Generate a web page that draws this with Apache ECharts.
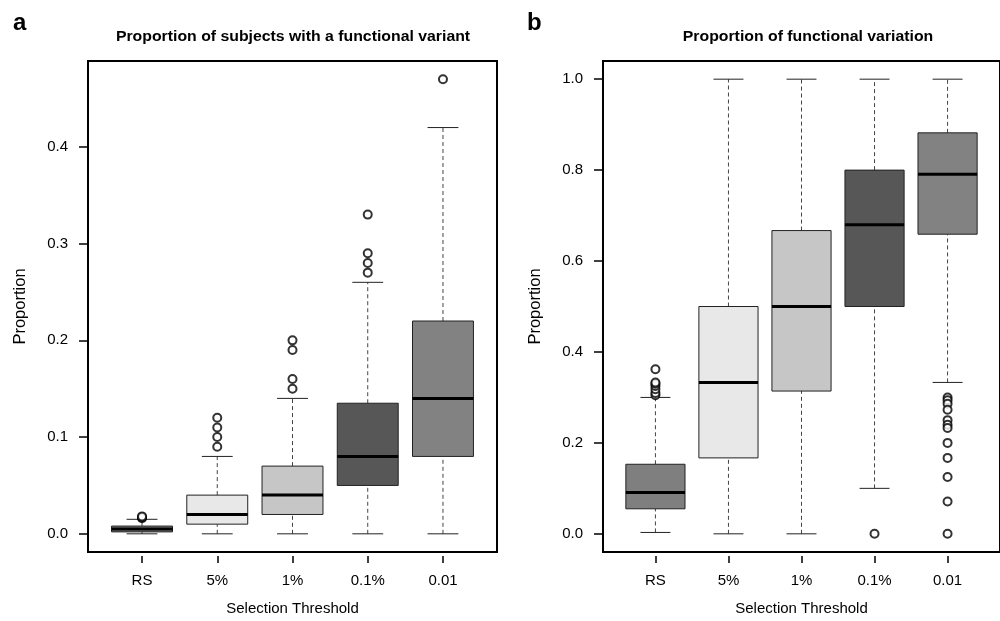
<!DOCTYPE html>
<html>
<head>
<meta charset="utf-8">
<script src="https://cdn.jsdelivr.net/npm/echarts@6/dist/echarts.min.js"></script>
<style>
html,body{margin:0;padding:0;background:#fff;}
#chart{width:1000px;height:621px;}
</style>
</head>
<body>
<div id="chart"></div>
<script>
// ---------- data ----------
const categories = ['RS', '5%', '1%', '0.1%', '0.01'];

// Panel a: Proportion of subjects with a functional variant
const aLowerWhisker = [0.000, 0.000, 0.000, 0.000, 0.000];
const aQ1           = [0.002, 0.010, 0.020, 0.050, 0.080];
const aMedian       = [0.005, 0.020, 0.040, 0.080, 0.140];
const aQ3           = [0.008, 0.040, 0.070, 0.135, 0.220];
const aUpperWhisker = [0.015, 0.080, 0.140, 0.260, 0.420];
const aOutliers = [
  [0.016, 0.017, 0.018],
  [0.09, 0.10, 0.11, 0.12],
  [0.15, 0.16, 0.19, 0.20],
  [0.27, 0.28, 0.29, 0.33],
  [0.47]
];
const aTicks = [0, 0.1, 0.2, 0.3, 0.4];

// Panel b: Proportion of functional variation
const bLowerWhisker = [0.003, 0.000, 0.000, 0.100, 0.333];
const bQ1           = [0.055, 0.167, 0.314, 0.500, 0.659];
const bMedian       = [0.091, 0.333, 0.500, 0.680, 0.791];
const bQ3           = [0.153, 0.500, 0.667, 0.800, 0.882];
const bUpperWhisker = [0.300, 1.000, 1.000, 1.000, 1.000];
const bOutliers = [
  [0.305, 0.310, 0.318, 0.325, 0.330, 0.333, 0.362],
  [],
  [],
  [0.0],
  [0.300, 0.294, 0.286, 0.273, 0.250, 0.240, 0.233, 0.200, 0.167, 0.125, 0.071, 0.0]
];
const bTicks = [0, 0.2, 0.4, 0.6, 0.8, 1.0];

// ---------- styles ----------
const boxColors = ['#7f7f7f', '#e8e8e8', '#c6c6c6', '#575757', '#828282'];
const FONT = 'Liberation Sans, Arial, Helvetica, sans-serif';

function boxData(lo, q1, med, q3, hi) {
  return categories.map((c, i) => [i + 1, lo[i], q1[i], med[i], q3[i], hi[i]]);
}
function outlierData(out) {
  const d = [];
  out.forEach((arr, i) => arr.forEach(v => d.push([i + 1, v])));
  return d;
}

function renderBox(params, api) {
  const x = api.value(0);
  const lo = api.value(1), q1 = api.value(2), med = api.value(3), q3 = api.value(4), hi = api.value(5);
  const halfBox = 0.405, halfCap = 0.205;
  const c = (a, b) => api.coord([a, b]);
  const pTL = c(x - halfBox, q3), pBR = c(x + halfBox, q1);
  const whiskerStyle = { stroke: '#444', lineWidth: 1, lineDash: [4, 3] };
  const capStyle = { stroke: '#222', lineWidth: 1 };
  const line = (p1, p2, style) => ({
    type: 'line',
    shape: { x1: p1[0], y1: p1[1], x2: p2[0], y2: p2[1] },
    style: style
  });
  return {
    type: 'group',
    children: [
      line(c(x, q3), c(x, hi), whiskerStyle),
      line(c(x, lo), c(x, q1), whiskerStyle),
      line(c(x - halfCap, hi), c(x + halfCap, hi), capStyle),
      line(c(x - halfCap, lo), c(x + halfCap, lo), capStyle),
      {
        type: 'rect',
        shape: { x: pTL[0], y: pTL[1], width: pBR[0] - pTL[0], height: pBR[1] - pTL[1] },
        style: { fill: boxColors[params.dataIndex], stroke: '#222', lineWidth: 1 }
      },
      line(c(x - halfBox, med), c(x + halfBox, med), { stroke: '#000', lineWidth: 3 })
    ]
  };
}

const grids = [
  { left: 88, top: 61, width: 409, height: 495 },
  { left: 603, top: 61, width: 409, height: 495 }
];

function xAxisFor(gi) {
  return {
    type: 'value', gridIndex: gi, min: 0.282, max: 5.718,
    offset: 4,
    axisLine: { show: false, onZero: false },
    splitLine: { show: false },
    axisTick: { show: true, length: 7, customValues: [1, 2, 3, 4, 5], lineStyle: { color: '#000', width: 1.5 } },
    axisLabel: {
      customValues: [1, 2, 3, 4, 5],
      formatter: v => categories[Math.round(v) - 1],
      margin: 17, color: '#000', fontSize: 15, fontFamily: FONT
    },
    name: 'Selection Threshold', nameLocation: 'middle', nameGap: 45,
    nameTextStyle: { fontSize: 15, fontFamily: FONT, color: '#000' }
  };
}
function yAxisFor(gi, min, max, ticks) {
  return {
    type: 'value', gridIndex: gi, min: min, max: max,
    axisLine: { show: false, onZero: false },
    splitLine: { show: false },
    axisTick: { show: true, length: 9, customValues: ticks, lineStyle: { color: '#000', width: 1.5 } },
    axisLabel: {
      customValues: ticks,
      formatter: v => v.toFixed(1),
      margin: 20, color: '#000', fontSize: 15, fontFamily: FONT
    },
    name: 'Proportion', nameLocation: 'middle', nameGap: 59,
    nameTextStyle: { fontSize: 16.5, fontFamily: FONT, color: '#000' }
  };
}

const outlierStyle = { color: '#000', borderColor: '#000', borderWidth: 1 };

const chart = echarts.init(document.getElementById('chart'));
chart.setOption({
  backgroundColor: '#fff',
  animation: false,
  grid: grids.map(g => Object.assign({ show: true, borderColor: '#000', borderWidth: 2, backgroundColor: 'transparent' }, g)),
  xAxis: [xAxisFor(0), xAxisFor(1)],
  yAxis: [yAxisFor(0, -0.0188, 0.4888, aTicks), yAxisFor(1, -0.04, 1.04, bTicks)],
  graphic: [
    { type: 'text', x: 13, y: 23.5, style: { text: 'a', font: 'bold 24px ' + FONT, fill: '#000', textVerticalAlign: 'middle' } },
    { type: 'text', x: 527, y: 23.5, style: { text: 'b', font: 'bold 24px ' + FONT, fill: '#000', textVerticalAlign: 'middle' } },
    { type: 'text', x: 293, y: 37.5, scaleX: 1.13, style: { text: 'Proportion of subjects with a functional variant', font: 'bold 14px ' + FONT, fill: '#000', textAlign: 'center', textVerticalAlign: 'middle' } },
    { type: 'text', x: 808, y: 37.5, scaleX: 1.13, style: { text: 'Proportion of functional variation', font: 'bold 14px ' + FONT, fill: '#000', textAlign: 'center', textVerticalAlign: 'middle' } }
  ],
  series: [
    { type: 'custom', xAxisIndex: 0, yAxisIndex: 0, renderItem: renderBox, data: boxData(aLowerWhisker, aQ1, aMedian, aQ3, aUpperWhisker), encode: { x: 0, y: [1, 2, 3, 4, 5] } },
    { type: 'scatter', xAxisIndex: 0, yAxisIndex: 0, symbol: 'emptyCircle', symbolSize: 8, itemStyle: outlierStyle, data: outlierData(aOutliers), z: 5 },
    { type: 'custom', xAxisIndex: 1, yAxisIndex: 1, renderItem: renderBox, data: boxData(bLowerWhisker, bQ1, bMedian, bQ3, bUpperWhisker), encode: { x: 0, y: [1, 2, 3, 4, 5] } },
    { type: 'scatter', xAxisIndex: 1, yAxisIndex: 1, symbol: 'emptyCircle', symbolSize: 8, itemStyle: outlierStyle, data: outlierData(bOutliers), z: 5 }
  ]
});
</script>
</body>
</html>
